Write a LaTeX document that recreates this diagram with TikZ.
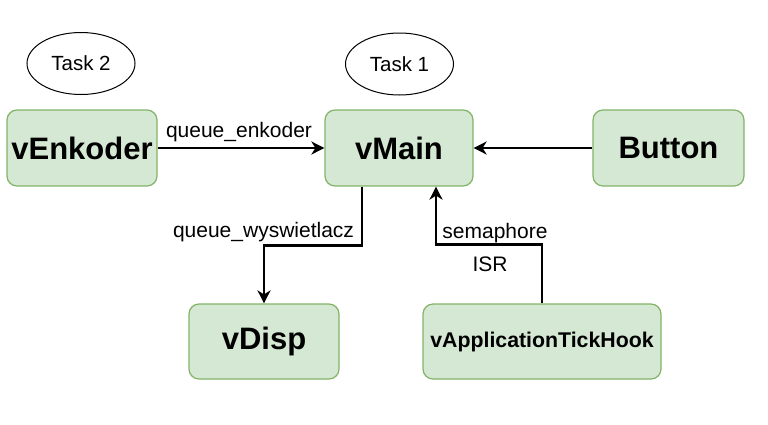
\documentclass[tikz,border=0pt]{standalone}
\usepackage{fontspec}
\setmainfont{Liberation Sans}
\usetikzlibrary{arrows.meta,calc}
\definecolor{boxfill}{HTML}{D5E8D4}
\definecolor{boxdraw}{HTML}{82B366}
\tikzset{
  taskbox/.style={draw=boxdraw, fill=boxfill, line width=1.2pt, rounded corners=10pt,
    minimum width=150pt, minimum height=76pt, inner sep=0pt, align=center,
    font=\fontsize{31}{35}\selectfont\bfseries},
  tasklabel/.style={draw=black, line width=1pt, ellipse, minimum width=108pt, minimum height=62pt,
    inner sep=0pt, font=\fontsize{20.5}{24}\selectfont},
  edgelabel/.style={inner sep=0pt, font=\fontsize{21}{25}\selectfont},
  arr/.style={draw=black, line width=2.6pt, -{Stealth[length=13pt,width=13pt,inset=4pt]}}
}
\usetikzlibrary{shapes.geometric}
\begin{document}
\begin{tikzpicture}[x=1pt,y=-1pt]
\useasboundingbox (0,0) rectangle (768,424);
\node[tasklabel] (t2) at (81,63.5) {Task 2};
\node[tasklabel] (t1) at (399.5,64) {Task 1};
\node[taskbox] (venk) at (82,148) {vEnkoder};
\node[taskbox, minimum width=148pt] (vmain) at (399,148) {vMain};
\node[taskbox, minimum width=151pt] (button) at (668.5,148) {Button};
\node[taskbox, minimum height=75pt] (vdisp) at (264,341.5) {vDisp};
\node[taskbox, minimum width=238pt, minimum height=75pt, font=\fontsize{21.3}{25}\selectfont\bfseries] (vapp) at (542,341.5) {vApplicationTickHook};
\draw[arr] (venk) -- (vmain);
\draw[arr] (button) -- (vmain);
\draw[arr] ([xshift=-37pt]vmain.south) -- ++(0,59) -| (vdisp.north);
\draw[arr] (vapp.north) -- ++(0,-59) -| ([xshift=37pt]vmain.south);
\node[edgelabel] (lq1) at (239,132) {queue\_enkoder};
\node[edgelabel] (lq2) at (263.5,232) {queue\_wyswietlacz};
\node[edgelabel] (lsem) at (495,233) {semaphore};
\node[edgelabel] (lisr) at (490,264) {ISR};
\end{tikzpicture}
\end{document}
